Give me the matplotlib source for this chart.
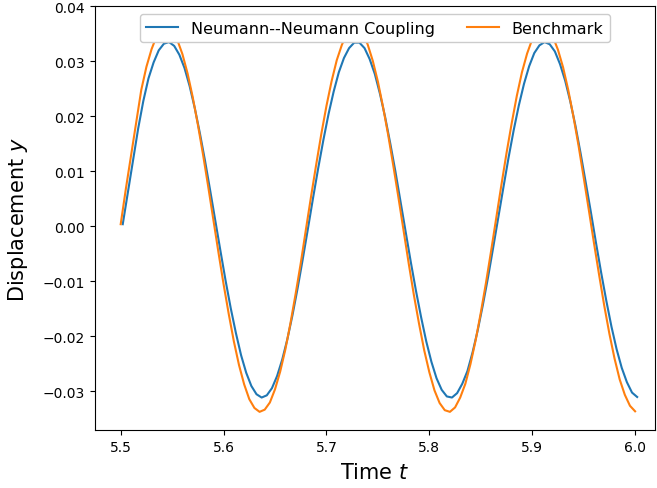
import numpy as np
import matplotlib
matplotlib.use('Agg')
import matplotlib.pyplot as plt

# time samples (coupled run starts a bit later than the benchmark)
t_coupled = np.arange(101) * 0.005 + 5.502
t_bench = np.arange(101) * 0.005 + 5.500

y_coupled = [
    0.0004, 0.0062, 0.0120, 0.0178, 0.0228, 0.0269, 0.0298, 0.0320, 0.0332, 0.0335,
    0.0328, 0.0312, 0.0288, 0.0255, 0.0215, 0.0169, 0.0119, 0.0065, 0.0010, -0.0045,
    -0.0099, -0.0149, -0.0194, -0.0234, -0.0266, -0.0290, -0.0305, -0.0311, -0.0307, -0.0294,
    -0.0272, -0.0242, -0.0205, -0.0161, -0.0112, -0.0059, -0.0004, 0.0052, 0.0106, 0.0157,
    0.0204, 0.0245, 0.0280, 0.0306, 0.0324, 0.0334, 0.0334, 0.0324, 0.0304, 0.0277,
    0.0241, 0.0199, 0.0151, 0.0100, 0.0045, -0.0010, -0.0065, -0.0117, -0.0165, -0.0209,
    -0.0246, -0.0276, -0.0297, -0.0309, -0.0311, -0.0303, -0.0286, -0.0263, -0.0229, -0.0189,
    -0.0143, -0.0093, -0.0039, 0.0016, 0.0071, 0.0125, 0.0175, 0.0220, 0.0259, 0.0291,
    0.0315, 0.0329, 0.0335, 0.0331, 0.0318, 0.0295, 0.0265, 0.0227, 0.0183, 0.0133,
    0.0080, 0.0026, -0.0030, -0.0084, -0.0135, -0.0182, -0.0223, -0.0257, -0.0283, -0.0302,
    -0.0310,
]

y_bench = [
    0.0004, 0.0068, 0.0128, 0.0188, 0.0248, 0.0290, 0.0322, 0.0346, 0.0360, 0.0363,
    0.0356, 0.0339, 0.0313, 0.0278, 0.0235, 0.0185, 0.0131, 0.0073, 0.0013, -0.0047,
    -0.0105, -0.0159, -0.0209, -0.0252, -0.0287, -0.0314, -0.0330, -0.0337, -0.0333, -0.0320,
    -0.0296, -0.0264, -0.0224, -0.0176, -0.0123, -0.0067, -0.0006, 0.0054, 0.0112, 0.0168,
    0.0219, 0.0264, 0.0302, 0.0330, 0.0351, 0.0362, 0.0362, 0.0351, 0.0331, 0.0301,
    0.0263, 0.0217, 0.0166, 0.0110, 0.0052, -0.0008, -0.0068, -0.0125, -0.0177, -0.0225,
    -0.0265, -0.0298, -0.0321, -0.0334, -0.0337, -0.0329, -0.0311, -0.0286, -0.0250, -0.0207,
    -0.0157, -0.0103, -0.0045, 0.0015, 0.0075, 0.0133, 0.0187, 0.0237, 0.0280, 0.0314,
    0.0340, 0.0357, 0.0363, 0.0359, 0.0345, 0.0321, 0.0289, 0.0248, 0.0200, 0.0147,
    0.0089, 0.0030, -0.0030, -0.0088, -0.0144, -0.0195, -0.0240, -0.0278, -0.0306, -0.0326,
    -0.0336,
]

fig = plt.figure(figsize=(6.57, 4.89), dpi=100)
ax = fig.add_axes([0.1444, 0.1186, 0.8525, 0.8665])

ax.plot(t_coupled, y_coupled, label='Neumann--Neumann Coupling')
ax.plot(t_bench, y_bench, label='Benchmark')

ax.set_xlim(5.4749, 6.0193)
ax.set_ylim(-0.0370, 0.04)
ax.set_xticks([5.5, 5.6, 5.7, 5.8, 5.9, 6.0])
ax.set_xlabel('Time $t$', fontsize=15, labelpad=6)
ax.set_ylabel('Displacement $y$', fontsize=15, labelpad=9)
leg = ax.legend(loc='upper center', ncol=2, fontsize=11.5)
leg.get_frame().set_alpha(1.0)

fig.savefig('out.png', dpi=100)
